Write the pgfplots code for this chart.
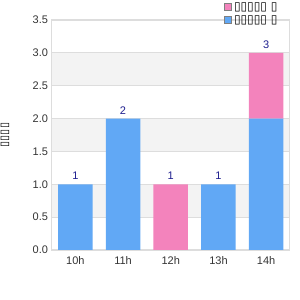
\documentclass[border=0pt]{standalone}
\usepackage{pgfplots}
\pgfplotsset{compat=1.18}
\usepackage{fontspec}
\setmainfont{Liberation Sans}
\newfontfamily\tofu{DejaVu Sans}
\definecolor{barblue}{HTML}{61A8F5}
\definecolor{barpink}{HTML}{F383BC}
\definecolor{band}{HTML}{F3F3F3}
\definecolor{gridc}{HTML}{DDDDDD}
\definecolor{valc}{HTML}{1F1F8F}
\definecolor{tickc}{HTML}{333333}
\pgfplotsset{
  common/.style={
    at={(51.5pt,50pt)}, anchor=south west,
    scale only axis,
    width=238.5pt, height=230pt,
    xmin=-0.5, xmax=4.5,
    ymin=0, ymax=3.5,
    /pgf/number format/assume math mode=true,
  }
}
\begin{document}
\begin{tikzpicture}
\path[use as bounding box] (0,0) rectangle (300pt,300pt);
% background bands
\begin{axis}[common, hide axis]
\fill[band] (axis cs:-0.5,0.5) rectangle (axis cs:4.5,1.0);
\fill[band] (axis cs:-0.5,1.5) rectangle (axis cs:4.5,2.0);
\fill[band] (axis cs:-0.5,2.5) rectangle (axis cs:4.5,3.0);
\end{axis}
% main axis
\begin{axis}[
  common,
  ybar stacked,
  bar width=34.5pt,
  xtick={0,1,2,3,4},
  xticklabels={10h,11h,12h,13h,14h},
  ytick={0,0.5,1,1.5,2,2.5,3,3.5},
  y tick label style={/pgf/number format/fixed, /pgf/number format/fixed zerofill, /pgf/number format/precision=1},
  tick label style={font=\fontsize{11}{13}\selectfont, text=tickc},
  xticklabel style={yshift=-3pt},
  major tick length=0pt,
  ymajorgrids,
  grid style={gridc, line width=0.8pt},
  axis line style={gridc, line width=1pt},
  ylabel={\tofu\fontsize{11}{12}\selectfont ▯▯▯▯},
  every axis y label/.style={at={(axis description cs:-0.195,0.5)}, rotate=90, anchor=center},
  legend style={at={(axis description cs:0.72,1.09)}, anchor=north west, draw=none, fill=none,
    font=\tofu\fontsize{12}{13}\selectfont, row sep=0pt, inner sep=1pt, legend cell align=left},
  legend image code/.code={\draw[#1, draw=gray, line width=0.6pt] (0pt,-3.5pt) rectangle (7pt,3.5pt);},
]
\addlegendimage{fill=barpink}
\addlegendentry{▯▯▯▯▯ ▯}
\addlegendimage{fill=barblue}
\addlegendentry{▯▯▯▯▯ ▯}
\addplot[fill=barblue, draw=none, forget plot] coordinates {(0,1) (1,2) (2,0) (3,1) (4,2)};
\addplot[fill=barpink, draw=none, forget plot] coordinates {(0,0) (1,0) (2,1) (3,0) (4,1)};
\end{axis}
% total labels
\begin{axis}[common, hide axis]
\addplot[draw=none, mark=none, nodes near coords,
  every node near coord/.style={font=\fontsize{11}{13}\selectfont, text=valc, anchor=south, yshift=1pt}]
  coordinates {(0,1) (1,2) (2,1) (3,1) (4,3)};
\end{axis}
\end{tikzpicture}
\end{document}
